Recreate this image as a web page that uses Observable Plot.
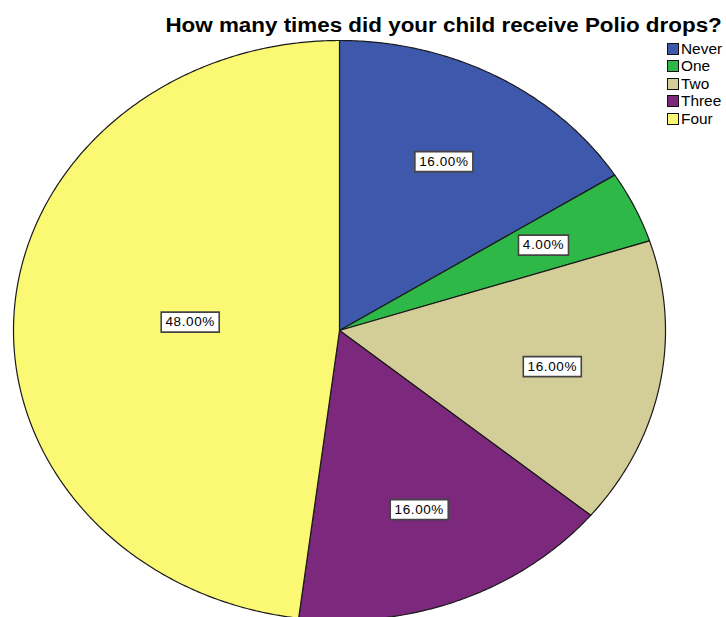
<!DOCTYPE html>
<html>
<head>
<meta charset="utf-8">
<script src="https://cdn.jsdelivr.net/npm/d3@7"></script>
<script src="https://cdn.jsdelivr.net/npm/@observablehq/plot@0.6"></script>
<style>
  html, body { margin: 0; padding: 0; background: #fff; }
  #wrap { position: relative; width: 726px; height: 617px; overflow: hidden; font-family: "Liberation Sans", Arial, sans-serif; }
  #chart { position: absolute; left: 0; top: 0; }
  #title { position: absolute; right: 4px; top: 14px; font-size: 20px; font-weight: bold; color: #000; white-space: nowrap; transform: scaleX(1.12); transform-origin: right center; }
  #legend { position: absolute; left: 667px; top: 40px; font-size: 14px; color: #000; }
  .item { height: 17.5px; display: flex; align-items: center; }
  .sw { width: 10px; height: 10px; border: 1px solid #111; margin-right: 2px; }
  .item span { display: inline-block; transform: scaleX(1.1); transform-origin: left center; }
  #chart text { letter-spacing: 0.6px; }
</style>
</head>
<body>
<div id="wrap">
  <div id="chart"></div>
  <div id="title">How many times did your child receive Polio drops?</div>
  <div id="legend"></div>
</div>
<script>
const categories = ["Never", "One", "Two", "Three", "Four"];
const percents = [16, 4, 16, 16, 48];
const colors = ["#3e58ac", "#2eb848", "#d3ce97", "#7c287d", "#fbf873"];
const labels = ["16.00%", "4.00%", "16.00%", "16.00%", "48.00%"];

// Build slice polygons (unit circle, angle clockwise from top)
const total = d3.sum(percents);
let cum = 0;
const slices = categories.map((c, i) => {
  const a0 = cum / total * 2 * Math.PI;
  cum += percents[i];
  const a1 = cum / total * 2 * Math.PI;
  const pts = [{x: 0, y: 0}];
  const n = Math.max(2, Math.ceil((a1 - a0) / (Math.PI / 360)));
  for (let k = 0; k <= n; k++) {
    const a = a0 + (a1 - a0) * k / n;
    pts.push({x: Math.sin(a), y: Math.cos(a)});
  }
  pts.push({x: 0, y: 0});
  const alpha = a1 - a0, mid = (a0 + a1) / 2;
  const dist = 4 * Math.sin(alpha / 2) / (3 * alpha) * 1.04;
  return {cat: c, color: colors[i], pts, label: labels[i], lx: dist * Math.sin(mid), ly: dist * Math.cos(mid)};
});

const boxSymbol = {
  draw(context, size) {
    const r = Math.sqrt(size / Math.PI);
    const h = 10;
    context.moveTo(-r, -h);
    context.lineTo(r, -h);
    context.lineTo(r, h);
    context.lineTo(-r, h);
    context.closePath();
  }
};

const chart = Plot.plot({
  width: 726,
  height: 617,
  margin: 0,
  x: {domain: [-1, 1], range: [13, 665], axis: null},
  y: {domain: [-1, 1], range: [620, 40], axis: null},
  marks: [
    ...slices.map(s => Plot.line(s.pts, {x: "x", y: "y", fill: s.color, stroke: "#1a1a1a", strokeWidth: 1.2, strokeLinejoin: "round"})),
    ...slices.map(s => Plot.dot([s], {x: "lx", y: "ly", r: s.label.length === 6 ? 29 : 25, symbol: boxSymbol, fill: "#fff", stroke: "#444", strokeWidth: 1.6})),
    Plot.text(slices, {x: "lx", y: "ly", text: "label", fontSize: 13.5, fill: "#000", fontFamily: "Liberation Sans, Arial, sans-serif"})
  ]
});
document.getElementById("chart").appendChild(chart);

const legend = document.getElementById("legend");
categories.forEach((c, i) => {
  const row = document.createElement("div");
  row.className = "item";
  const sw = document.createElement("div");
  sw.className = "sw";
  sw.style.background = colors[i];
  const t = document.createElement("span");
  t.textContent = c;
  row.appendChild(sw);
  row.appendChild(t);
  legend.appendChild(row);
});
</script>
</body>
</html>
